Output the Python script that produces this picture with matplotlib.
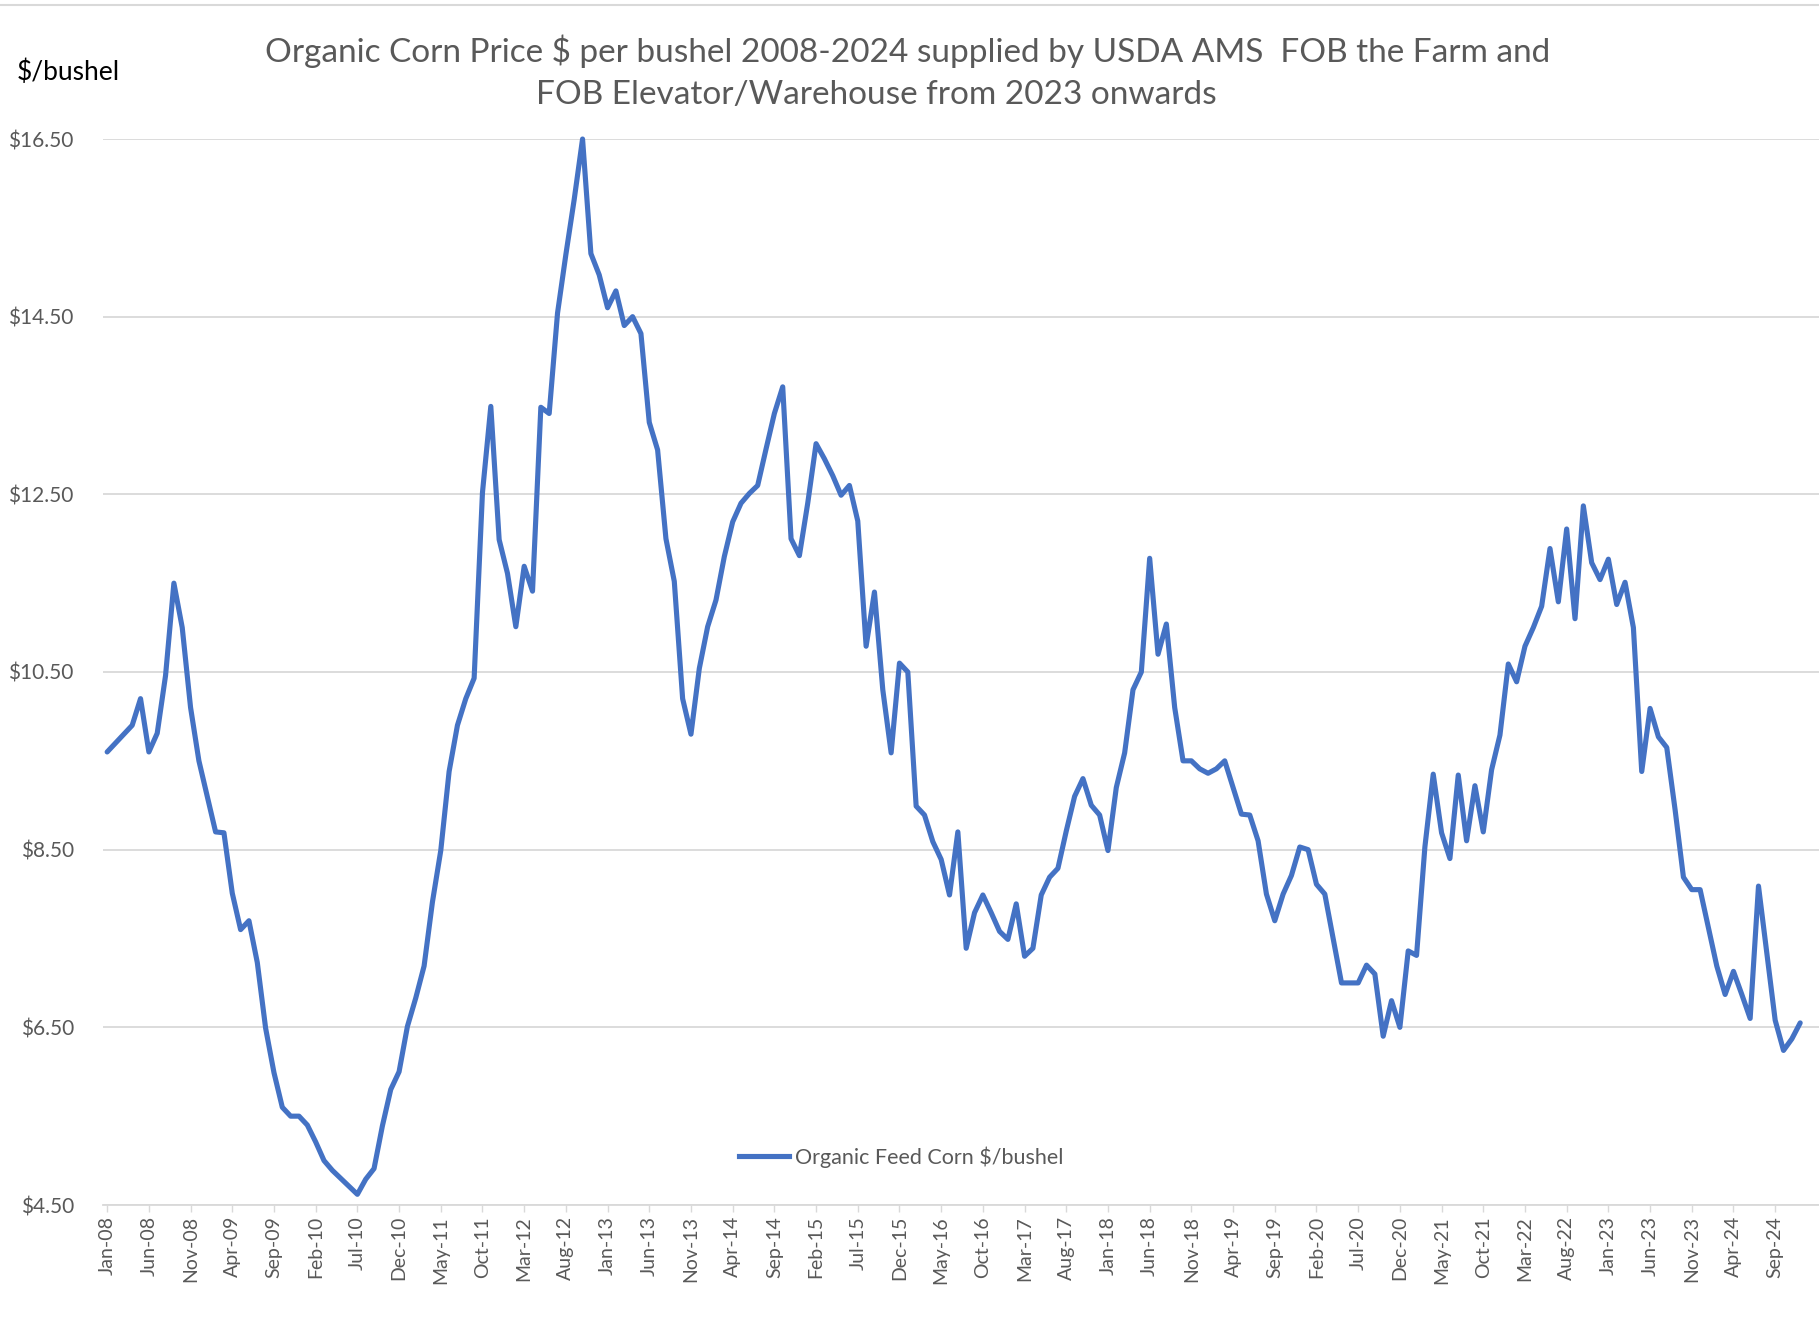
from pathlib import Path

import matplotlib
matplotlib.use("Agg")
import matplotlib.pyplot as plt
import pandas as pd
from matplotlib.lines import Line2D

# CONFIG ===============================================================================================================

OUT_PATH = Path("out.png")
FIG_W_PX, FIG_H_PX = 1819, 1323
DPI = 100

LINE_COLOR = "#4472C4"
TEXT_GREY = "#595959"
GRID_GREY = "#D9D9D9"
FONT = ["Lato", "DejaVu Sans"]

# DATA =================================================================================================================

START_MONTH = "2008-01"
TICK_EVERY = 5

# Organic feed corn, $/bushel, one value per month from Jan-08
PRICES = [
    9.60, 9.70, 9.80, 9.90, 10.20, 9.60, 9.81, 10.46, 11.50, 11.00, 10.10, 9.50,    # 2008
    9.10, 8.70, 8.69, 8.01, 7.60, 7.70, 7.23, 6.49, 5.99, 5.60, 5.50, 5.50,         # 2009
    5.40, 5.21, 5.00, 4.89, 4.80, 4.71, 4.62, 4.79, 4.91, 5.39, 5.80, 6.00,         # 2010
    6.51, 6.83, 7.19, 7.91, 8.49, 9.38, 9.90, 10.20, 10.43, 12.52, 13.49, 11.99,    # 2011
    11.61, 11.01, 11.69, 11.41, 13.48, 13.41, 14.54, 15.20, 15.82, 16.50, 15.21, 14.97,  # 2012
    14.60, 14.79, 14.40, 14.50, 14.31, 13.31, 13.00, 12.00, 11.52, 10.20, 9.80, 10.54,   # 2013
    11.01, 11.31, 11.80, 12.19, 12.40, 12.51, 12.60, 13.01, 13.41, 13.71, 12.00, 11.81,  # 2014
    12.40, 13.07, 12.90, 12.71, 12.49, 12.60, 12.20, 10.79, 11.40, 10.30, 9.59, 10.60,   # 2015
    10.50, 8.99, 8.89, 8.59, 8.39, 7.99, 8.70, 7.39, 7.79, 7.99, 7.79, 7.58,        # 2016
    7.49, 7.89, 7.30, 7.39, 7.99, 8.19, 8.29, 8.71, 9.10, 9.30, 9.00, 8.89,         # 2017
    8.49, 9.20, 9.59, 10.30, 10.50, 11.78, 10.70, 11.04, 10.10, 9.50, 9.50, 9.41,   # 2018
    9.36, 9.41, 9.50, 9.20, 8.90, 8.89, 8.60, 8.00, 7.70, 8.00, 8.21, 8.53,         # 2019
    8.50, 8.11, 8.00, 7.50, 7.00, 7.00, 7.00, 7.20, 7.10, 6.40, 6.80, 6.50,         # 2020
    7.36, 7.31, 8.53, 9.35, 8.69, 8.40, 9.34, 8.60, 9.22, 8.70, 9.40, 9.79,         # 2021
    10.59, 10.39, 10.79, 11.00, 11.24, 11.89, 11.29, 12.11, 11.10, 12.37, 11.73, 11.54,  # 2022
    11.77, 11.26, 11.51, 11.00, 9.38, 10.09, 9.77, 9.65, 8.95, 8.19, 8.05, 8.05,    # 2023
    7.62, 7.19, 6.87, 7.13, 6.87, 6.60, 8.09, 7.34, 6.58, 6.24, 6.37, 6.55,         # 2024
]

Y_TICKS = [4.5, 6.5, 8.5, 10.5, 12.5, 14.5, 16.5]

# Excel wrapped the title; the second line sits slightly left of the first
TITLE_LINES = [
    "Organic Corn Price \\$ per bushel 2008-2024 supplied by USDA AMS  FOB the Farm and",
    "FOB Elevator/Warehouse from 2023 onwards",
]
Y_UNIT = "\\$/bushel"
SERIES_LABEL = "Organic Feed Corn \\$/bushel"


# PLOTTING =============================================================================================================

def px_x(px: float) -> float:
    return px / FIG_W_PX


def px_y(px: float) -> float:
    return 1.0 - px / FIG_H_PX


def main() -> None:
    plt.rcParams["font.family"] = FONT

    months = pd.date_range(START_MONTH, periods=len(PRICES), freq="MS")
    month_labels = [m.strftime("%b-%y") for m in months]
    idx = list(range(len(PRICES)))

    fig = plt.figure(figsize=(FIG_W_PX / DPI, FIG_H_PX / DPI), dpi=DPI)
    left, right = px_x(103), 1.0
    bottom, top = px_y(1205), px_y(139)
    ax = fig.add_axes([left, bottom, right - left, top - bottom])

    ax.plot(idx, PRICES, color=LINE_COLOR, lw=3.7, solid_joinstyle="round",
            solid_capstyle="round", clip_on=False, zorder=3)

    # one month is ~8.34 px wide, first point sits 4 px in from the axis start
    ax.set_xlim(-0.5, -0.5 + (FIG_W_PX - 103) / 8.34)
    ax.set_ylim(Y_TICKS[0], Y_TICKS[-1])

    ax.set_yticks(Y_TICKS)
    ax.set_yticklabels([f"\\${v:.2f}" for v in Y_TICKS])
    ax.tick_params(axis="y", length=0, pad=21, labelsize=15, labelcolor=TEXT_GREY)
    ax.yaxis.grid(True, color=GRID_GREY, lw=1.3)

    tick_pos = idx[::TICK_EVERY]
    ax.set_xticks(tick_pos)
    ax.set_xticklabels([month_labels[i] for i in tick_pos], rotation=90)
    ax.tick_params(axis="x", length=5, width=1, color=GRID_GREY, pad=3,
                   labelsize=14, labelcolor=TEXT_GREY)

    for side in ("top", "right", "left"):
        ax.spines[side].set_visible(False)
    ax.spines["bottom"].set_color(GRID_GREY)
    ax.spines["bottom"].set_linewidth(1.3)
    ax.set_axisbelow(True)

    handle = Line2D([], [], color=LINE_COLOR, lw=3.7)
    ax.legend([handle], [SERIES_LABEL], loc="center", bbox_to_anchor=(px_x(901), px_y(1157)),
              bbox_transform=fig.transFigure, frameon=False, fontsize=15.5, handlelength=2.35,
              handletextpad=0.28, labelcolor=TEXT_GREY)

    fig.text(px_x(908), px_y(51), TITLE_LINES[0], ha="center", va="center", fontsize=24,
             color=TEXT_GREY)
    fig.text(px_x(876), px_y(95), TITLE_LINES[1], ha="center", va="center", fontsize=24,
             color=TEXT_GREY)
    fig.text(px_x(17), px_y(72), Y_UNIT, ha="left", va="center", fontsize=19, color="black")

    # light chart-area frame (top edge visible in the reference)
    fig.add_artist(Line2D([0, 1], [px_y(5), px_y(5)], color=GRID_GREY, lw=1.5,
                          transform=fig.transFigure))

    fig.savefig(OUT_PATH, dpi=DPI, facecolor="white")


if __name__ == "__main__":
    main()
